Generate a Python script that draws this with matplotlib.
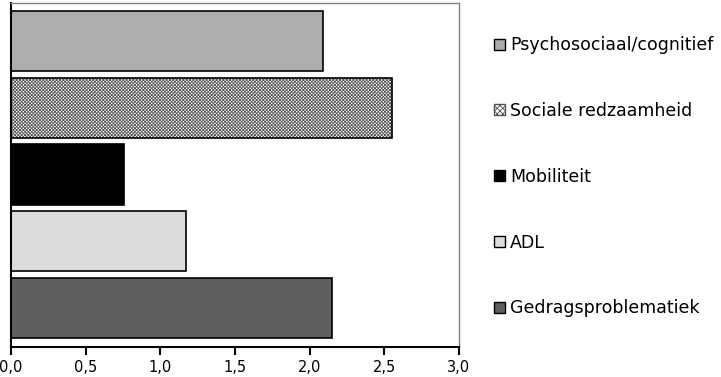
import matplotlib.pyplot as plt
from matplotlib.ticker import FuncFormatter

# categories from top to bottom
categories = ["Psychosociaal/cognitief", "Sociale redzaamheid", "Mobiliteit",
              "ADL", "Gedragsproblematiek"]
values = [2.09, 2.55, 0.76, 1.17, 2.15]
colors = ["#adadad", "#a8a8a8", "#000000", "#dcdcdc", "#5f5f5f"]
hatches = [None, "xxxxxxxxxx", None, None, None]
x_ticks = [0.0, 0.5, 1.0, 1.5, 2.0, 2.5, 3.0]


def main():
    plt.rcParams["hatch.linewidth"] = 0.6
    fig = plt.figure(figsize=(7.21, 3.77), dpi=100)
    ax = fig.add_axes([11 / 721, 30 / 377, 448 / 721, 344 / 377])

    n = len(categories)
    ypos = [n - 1 - i for i in range(n)]
    handles = []
    for y, v, c, h, lab in zip(ypos, values, colors, hatches, categories):
        if h:
            ax.barh(y, v, height=0.9, color="white", edgecolor="#555555",
                    hatch=h, linewidth=0)
            ax.barh(y, v, height=0.9, color="none", edgecolor="black", linewidth=1.2)
            handles.append(plt.Rectangle((0, 0), 1, 1, facecolor="white",
                                         edgecolor="#555555", hatch="xxxxxx", label=lab))
        else:
            ax.barh(y, v, height=0.9, color=c, edgecolor="black", linewidth=1.2)
            handles.append(plt.Rectangle((0, 0), 1, 1, facecolor=c,
                                         edgecolor="black", label=lab))

    ax.set_xlim(0, 3.0)
    ax.set_ylim(-0.584, 4.569)
    ax.set_xticks(x_ticks)
    ax.xaxis.set_major_formatter(FuncFormatter(lambda x, p: f"{x:.1f}".replace(".", ",")))
    ax.set_yticks([])
    ax.tick_params(axis="x", direction="out", length=6, width=1.5, labelsize=10.5, pad=3)
    for s in ["left", "bottom"]:
        ax.spines[s].set_linewidth(1.5)
        ax.spines[s].set_color("black")
    for s in ["top", "right"]:
        ax.spines[s].set_linewidth(1)
        ax.spines[s].set_color("#808080")

    fig.legend(handles=handles, loc="center left", bbox_to_anchor=(0.6735, 0.531),
               frameon=False, fontsize=12.5, handlelength=0.6, handleheight=0.6,
               handletextpad=0.3, labelspacing=2.75, borderpad=0)

    fig.savefig("out.png", dpi=100)


if __name__ == "__main__":
    main()
